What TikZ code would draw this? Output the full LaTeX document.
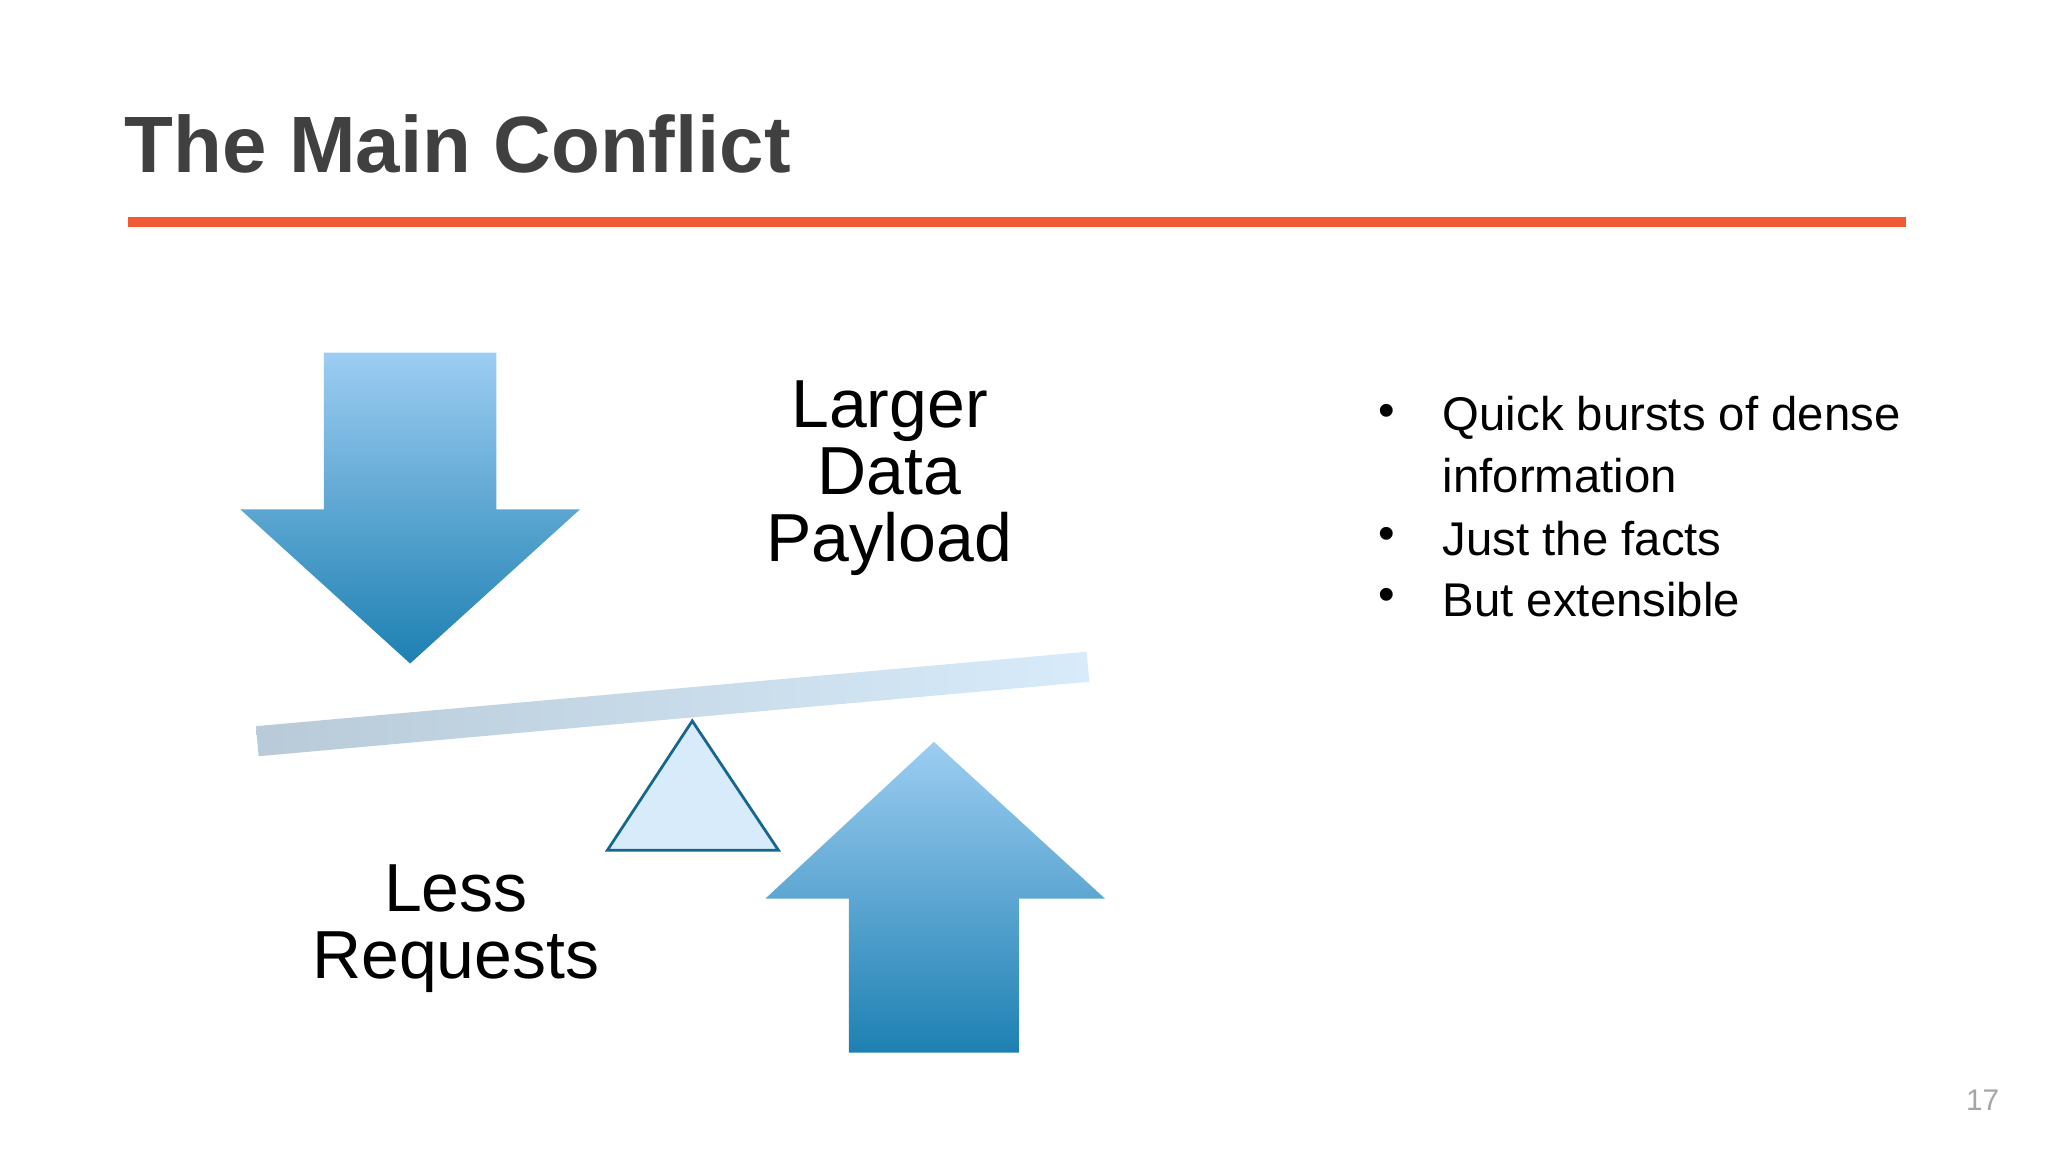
\documentclass[tikz,border=0pt]{standalone}
\usepackage{fontspec}
\setmainfont{Liberation Sans}
\begin{document}
\begin{tikzpicture}[x=0.01cm,y=-0.01cm,
  arr/.style={top color=arrlight,bottom color=arrdark,draw=none},
  lbl/.style={align=center,font=\fontsize{14.8}{14.6}\selectfont,inner sep=0pt},
  bul/.style={anchor=west,font=\fontsize{10.3}{13.4}\selectfont,inner sep=0pt,text=black}]
\definecolor{arrlight}{HTML}{9DCDF2}
\definecolor{arrdark}{HTML}{1D80B2}
\definecolor{titlec}{HTML}{404040}
\definecolor{redl}{HTML}{F05A35}
\useasboundingbox (0,0) rectangle (1568,882);
\node[anchor=base west,inner sep=0pt,text=titlec,font=\fontsize{17.4}{20}\selectfont\bfseries] (title) at (95,132) {The Main Conflict};
\coordinate (l1) at (98,170); \coordinate (l2) at (1459,170);
\draw[redl,line width=2pt] (l1) -- (l2);
% down arrow
\shade[arr] (248,270) -- (380,270) -- (380,390) -- (444,390) -- (314,508) -- (184,390) -- (248,390) -- cycle;
% up arrow
\shade[arr] (715,568) -- (846,688) -- (780,688) -- (780,806) -- (650,806) -- (650,688) -- (586,688) -- cycle;
% beam
\shade[left color=black!10!arrlight!70!gray!60,right color=arrlight!40,draw=none] (196,556) -- (832,499) -- (834,522) -- (198,579) -- cycle;
% fulcrum
\draw[fill=arrlight!40,draw=arrdark!80!black,line width=0.6pt] (465,651) -- (596,651) -- (530,552) -- cycle;
\node[lbl] (ldp) at (681,366) {Larger\\Data\\Payload};
\node[lbl] (lr) at (349,711) {Less\\Requests};
\node[bul] (b1) at (1055,318) {•};
\node[bul,anchor=north west,align=left] (t1) at (1104,303) {Quick bursts of dense\\information};
\node[bul] (b2) at (1055,412) {•};
\node[bul] (t2) at (1104,412) {Just the facts};
\node[bul] (b3) at (1055,459) {•};
\node[bul] (t3) at (1104,459) {But extensible};
\node[text=black!35,font=\fontsize{6.5}{8}\selectfont] (pg) at (1518,842) {17};
\end{tikzpicture}
\end{document}
